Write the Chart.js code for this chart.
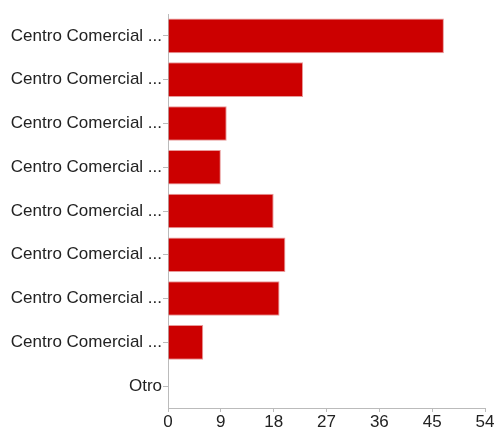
<!DOCTYPE html>
<html>
<head>
<meta charset="utf-8">
<script src="https://cdn.jsdelivr.net/npm/chart.js@4/dist/chart.umd.min.js"></script>
<style>
html,body{margin:0;padding:0;background:#fff;}
#wrap{width:496px;height:434px;position:relative;}
</style>
</head>
<body>
<div id="wrap"><canvas id="c" width="496" height="434"></canvas></div>
<script>
const categories = [
  "Centro Comercial ...",
  "Centro Comercial ...",
  "Centro Comercial ...",
  "Centro Comercial ...",
  "Centro Comercial ...",
  "Centro Comercial ...",
  "Centro Comercial ...",
  "Centro Comercial ...",
  "Otro"
];
const counts = [47, 23, 10, 9, 18, 20, 19, 6, 0];
const xTicks = [0, 9, 18, 27, 36, 45, 54];

new Chart(document.getElementById('c'), {
  type: 'bar',
  data: {
    labels: categories,
    datasets: [{
      data: counts,
      backgroundColor: '#cc0000',
      borderColor: '#e89a9a',
      borderWidth: {top:1,right:1,bottom:1,left:0},
      barPercentage: 0.79,
      categoryPercentage: 1.0
    }]
  },
  options: {
    indexAxis: 'y',
    responsive: false,
    animation: false,
    layout: { padding: { top: 14, right: 11, left: 0, bottom: 0 } },
    plugins: { legend: { display: false }, tooltip: { enabled: false } },
    scales: {
      x: {
        min: 0, max: 54,
        afterBuildTicks: (s) => { s.ticks = xTicks.map(v => ({ value: v })); },
        grid: { drawOnChartArea: false, drawTicks: true, tickLength: 4, color: '#bbbbbb' },
        border: { color: '#bbbbbb', width: 1 },
        ticks: { color: '#222', font: { family: 'Liberation Sans, Arial', size: 17 }, padding: 0, maxRotation: 0 },
        afterFit: (s) => { s.height = 26; }
      },
      y: {
        grid: { drawOnChartArea: false, drawTicks: true, tickLength: 5, color: '#bbbbbb', offset: false },
        border: { color: '#bbbbbb', width: 1 },
        ticks: { color: '#222', font: { family: 'Liberation Sans, Arial', size: 17 }, padding: 1, autoSkip: false },
        afterFit: (s) => { s.width = 168; }
      }
    }
  }
});
</script>
</body>
</html>
